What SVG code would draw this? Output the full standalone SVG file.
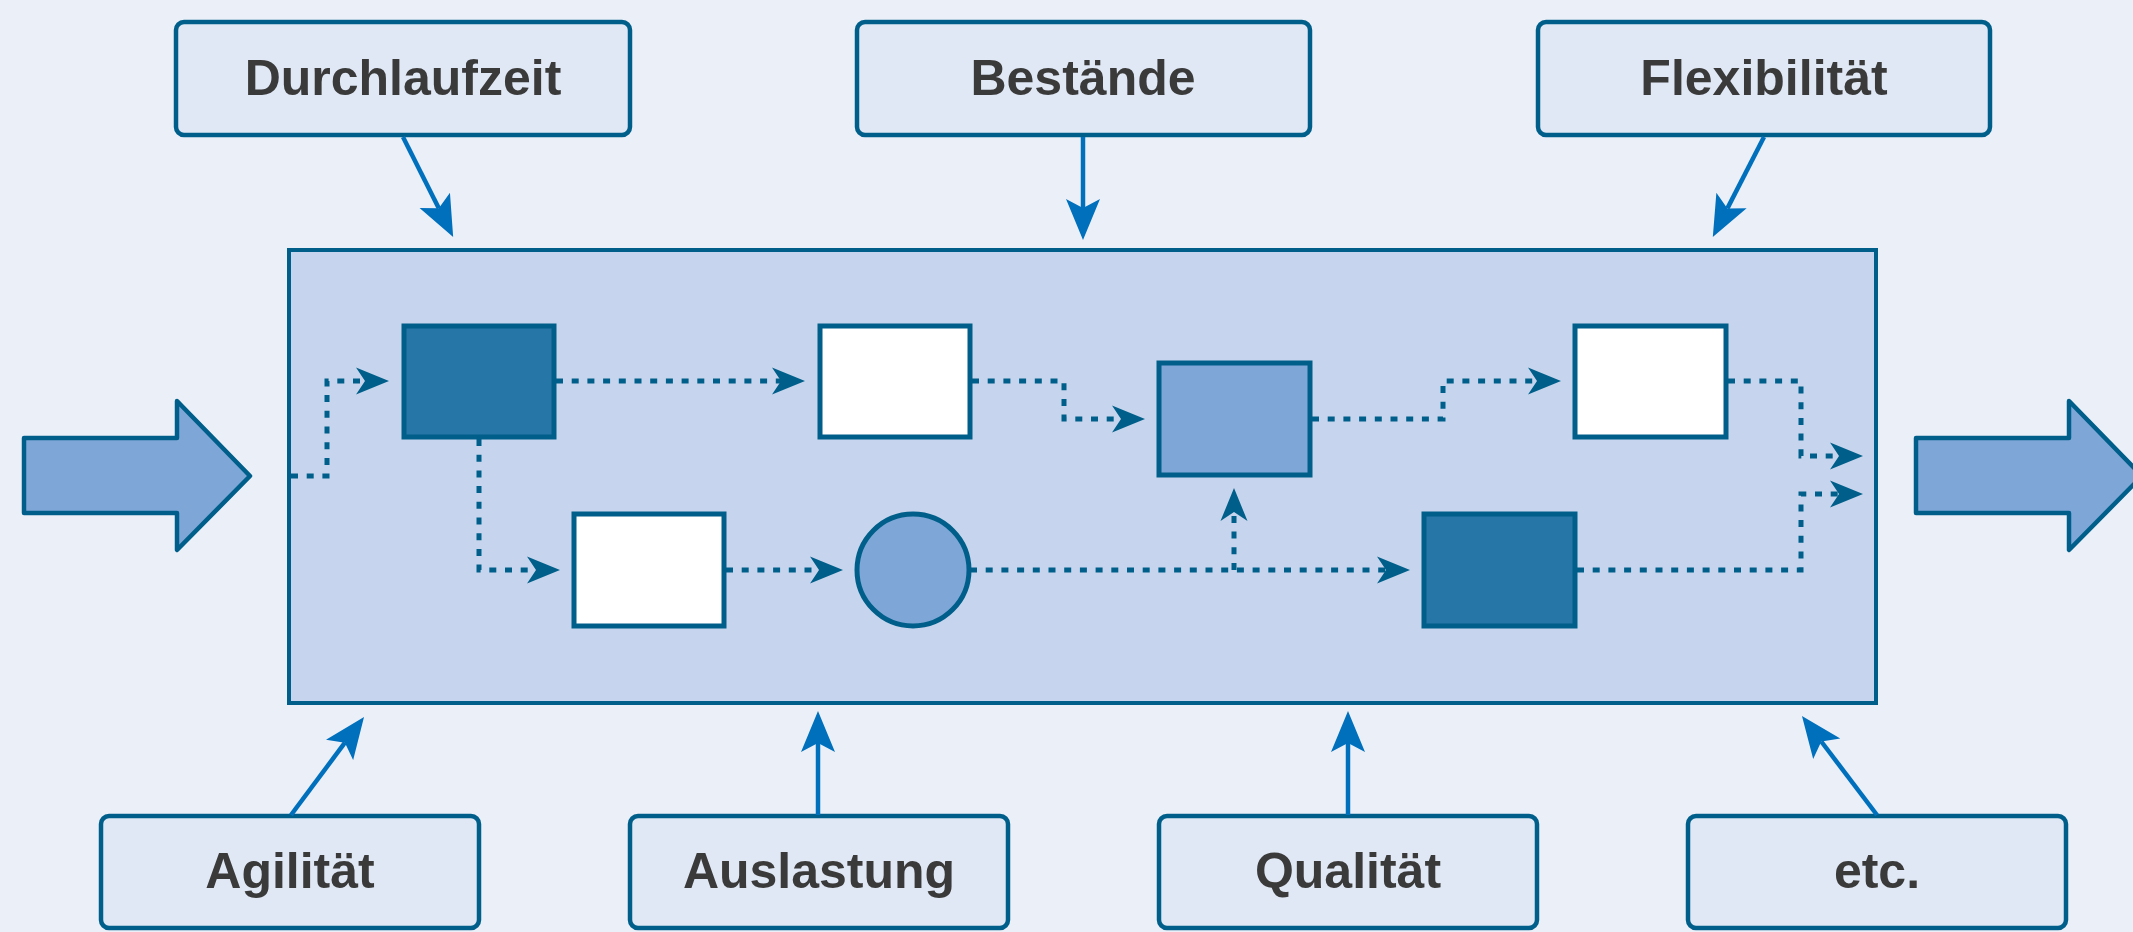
<svg xmlns="http://www.w3.org/2000/svg" width="2133" height="932" viewBox="0 0 2133 932">
<style>
.lbl{fill:#E0E8F5;stroke:#005F8A;stroke-width:4.5}
.txt{font-family:"Liberation Sans",Arial,sans-serif;font-weight:bold;font-size:50px;fill:#3A3A3A;text-anchor:middle}
.solid{fill:none;stroke:#0070BD;stroke-width:4.5;marker-end:url(#ah)}
.dot{fill:none;stroke:#005F8A;stroke-width:5;stroke-dasharray:7 8.7;marker-end:url(#dh)}
.node{stroke:#005F8A;stroke-width:5}
.big{fill:#7EA7D8;stroke:#005F8A;stroke-width:4.5;stroke-linejoin:round}
</style>
<defs>
<marker id="ah" markerUnits="userSpaceOnUse" viewBox="0 -18 42 36" markerWidth="42" markerHeight="36" refX="9" refY="0" orient="auto">
<path d="M0,-17 L41,0 L0,17 L9,0 Z" fill="#0070BD"/>
</marker>
<marker id="dh" markerUnits="userSpaceOnUse" viewBox="0 -15 34 30" markerWidth="34" markerHeight="30" refX="9" refY="0" orient="auto">
<path d="M0,-13.5 L33,0 L0,13.5 L9,0 Z" fill="#005F8A"/>
</marker>
</defs>
<rect width="2133" height="932" fill="#EBF0F8"/>

<g id="main-box">
<rect x="289" y="250" width="1587" height="453" fill="#C6D5ED" stroke="#005F8A" stroke-width="4"/>
</g>

<g id="input-arrow">
<path class="big" d="M24,438 H177 V401 L250,476 L177,550 V513 H24 Z"/>
</g>
<g id="output-arrow">
<path class="big" d="M1916,438 H2069 V401 L2142,476 L2069,550 V513 H1916 Z"/>
</g>

<g id="node-a"><rect class="node" x="404" y="326" width="150" height="111" fill="#2677A7"/></g>
<g id="node-b"><rect class="node" x="820" y="326" width="150" height="111" fill="#FFFFFF"/></g>
<g id="node-c"><rect class="node" x="1159" y="363" width="151" height="112" fill="#7EA7D8"/></g>
<g id="node-d"><rect class="node" x="1575" y="326" width="151" height="111" fill="#FFFFFF"/></g>
<g id="node-e"><rect class="node" x="574" y="514" width="150" height="112" fill="#FFFFFF"/></g>
<g id="node-f"><circle class="node" cx="913" cy="570" r="56" fill="#7EA7D8"/></g>
<g id="node-g"><rect class="node" x="1424" y="514" width="151" height="112" fill="#2677A7"/></g>

<g id="label-durchlaufzeit"><rect class="lbl" x="176" y="22" width="454" height="113" rx="8"/><text class="txt" x="403" y="95">Durchlaufzeit</text></g>
<g id="label-bestaende"><rect class="lbl" x="857" y="22" width="453" height="113" rx="8"/><text class="txt" x="1083" y="95">Bestände</text></g>
<g id="label-flexibilitaet"><rect class="lbl" x="1538" y="22" width="452" height="113" rx="8"/><text class="txt" x="1764" y="95">Flexibilität</text></g>
<g id="label-agilitaet"><rect class="lbl" x="101" y="816" width="378" height="112" rx="8"/><text class="txt" x="290" y="888">Agilität</text></g>
<g id="label-auslastung"><rect class="lbl" x="630" y="816" width="378" height="112" rx="8"/><text class="txt" x="819" y="888">Auslastung</text></g>
<g id="label-qualitaet"><rect class="lbl" x="1159" y="816" width="378" height="112" rx="8"/><text class="txt" x="1348" y="888">Qualität</text></g>
<g id="label-etc"><rect class="lbl" x="1688" y="816" width="378" height="112" rx="8"/><text class="txt" x="1877" y="888">etc.</text></g>

<g id="connectors">
<path class="solid" d="M403,137 L438.8,208.3"/>
<path class="solid" d="M1083,137 L1083,208"/>
<path class="solid" d="M1764,137 L1727.4,208.4"/>
<path class="solid" d="M291,815 L344.9,742.7"/>
<path class="solid" d="M818,815 L818,743"/>
<path class="solid" d="M1348,815 L1348,743"/>
<path class="solid" d="M1877,815 L1821.3,741.5"/>

<path class="dot" d="M291,476 H327 V381 H365"/>
<path class="dot" d="M556,381 H781"/>
<path class="dot" d="M479,439 V570 H536"/>
<path class="dot" d="M972,381 H1064 V419 H1121"/>
<path class="dot" d="M1312,419 H1443 V381 H1537"/>
<path class="dot" d="M726,570 H819"/>
<path class="dot" d="M970,570 H1386"/>
<path class="dot" d="M1234,570 V512"/>
<path class="dot" d="M1728,381 H1801 V456 H1839"/>
<path class="dot" d="M1577,570 H1801 V494 H1839"/>
</g>
</svg>
